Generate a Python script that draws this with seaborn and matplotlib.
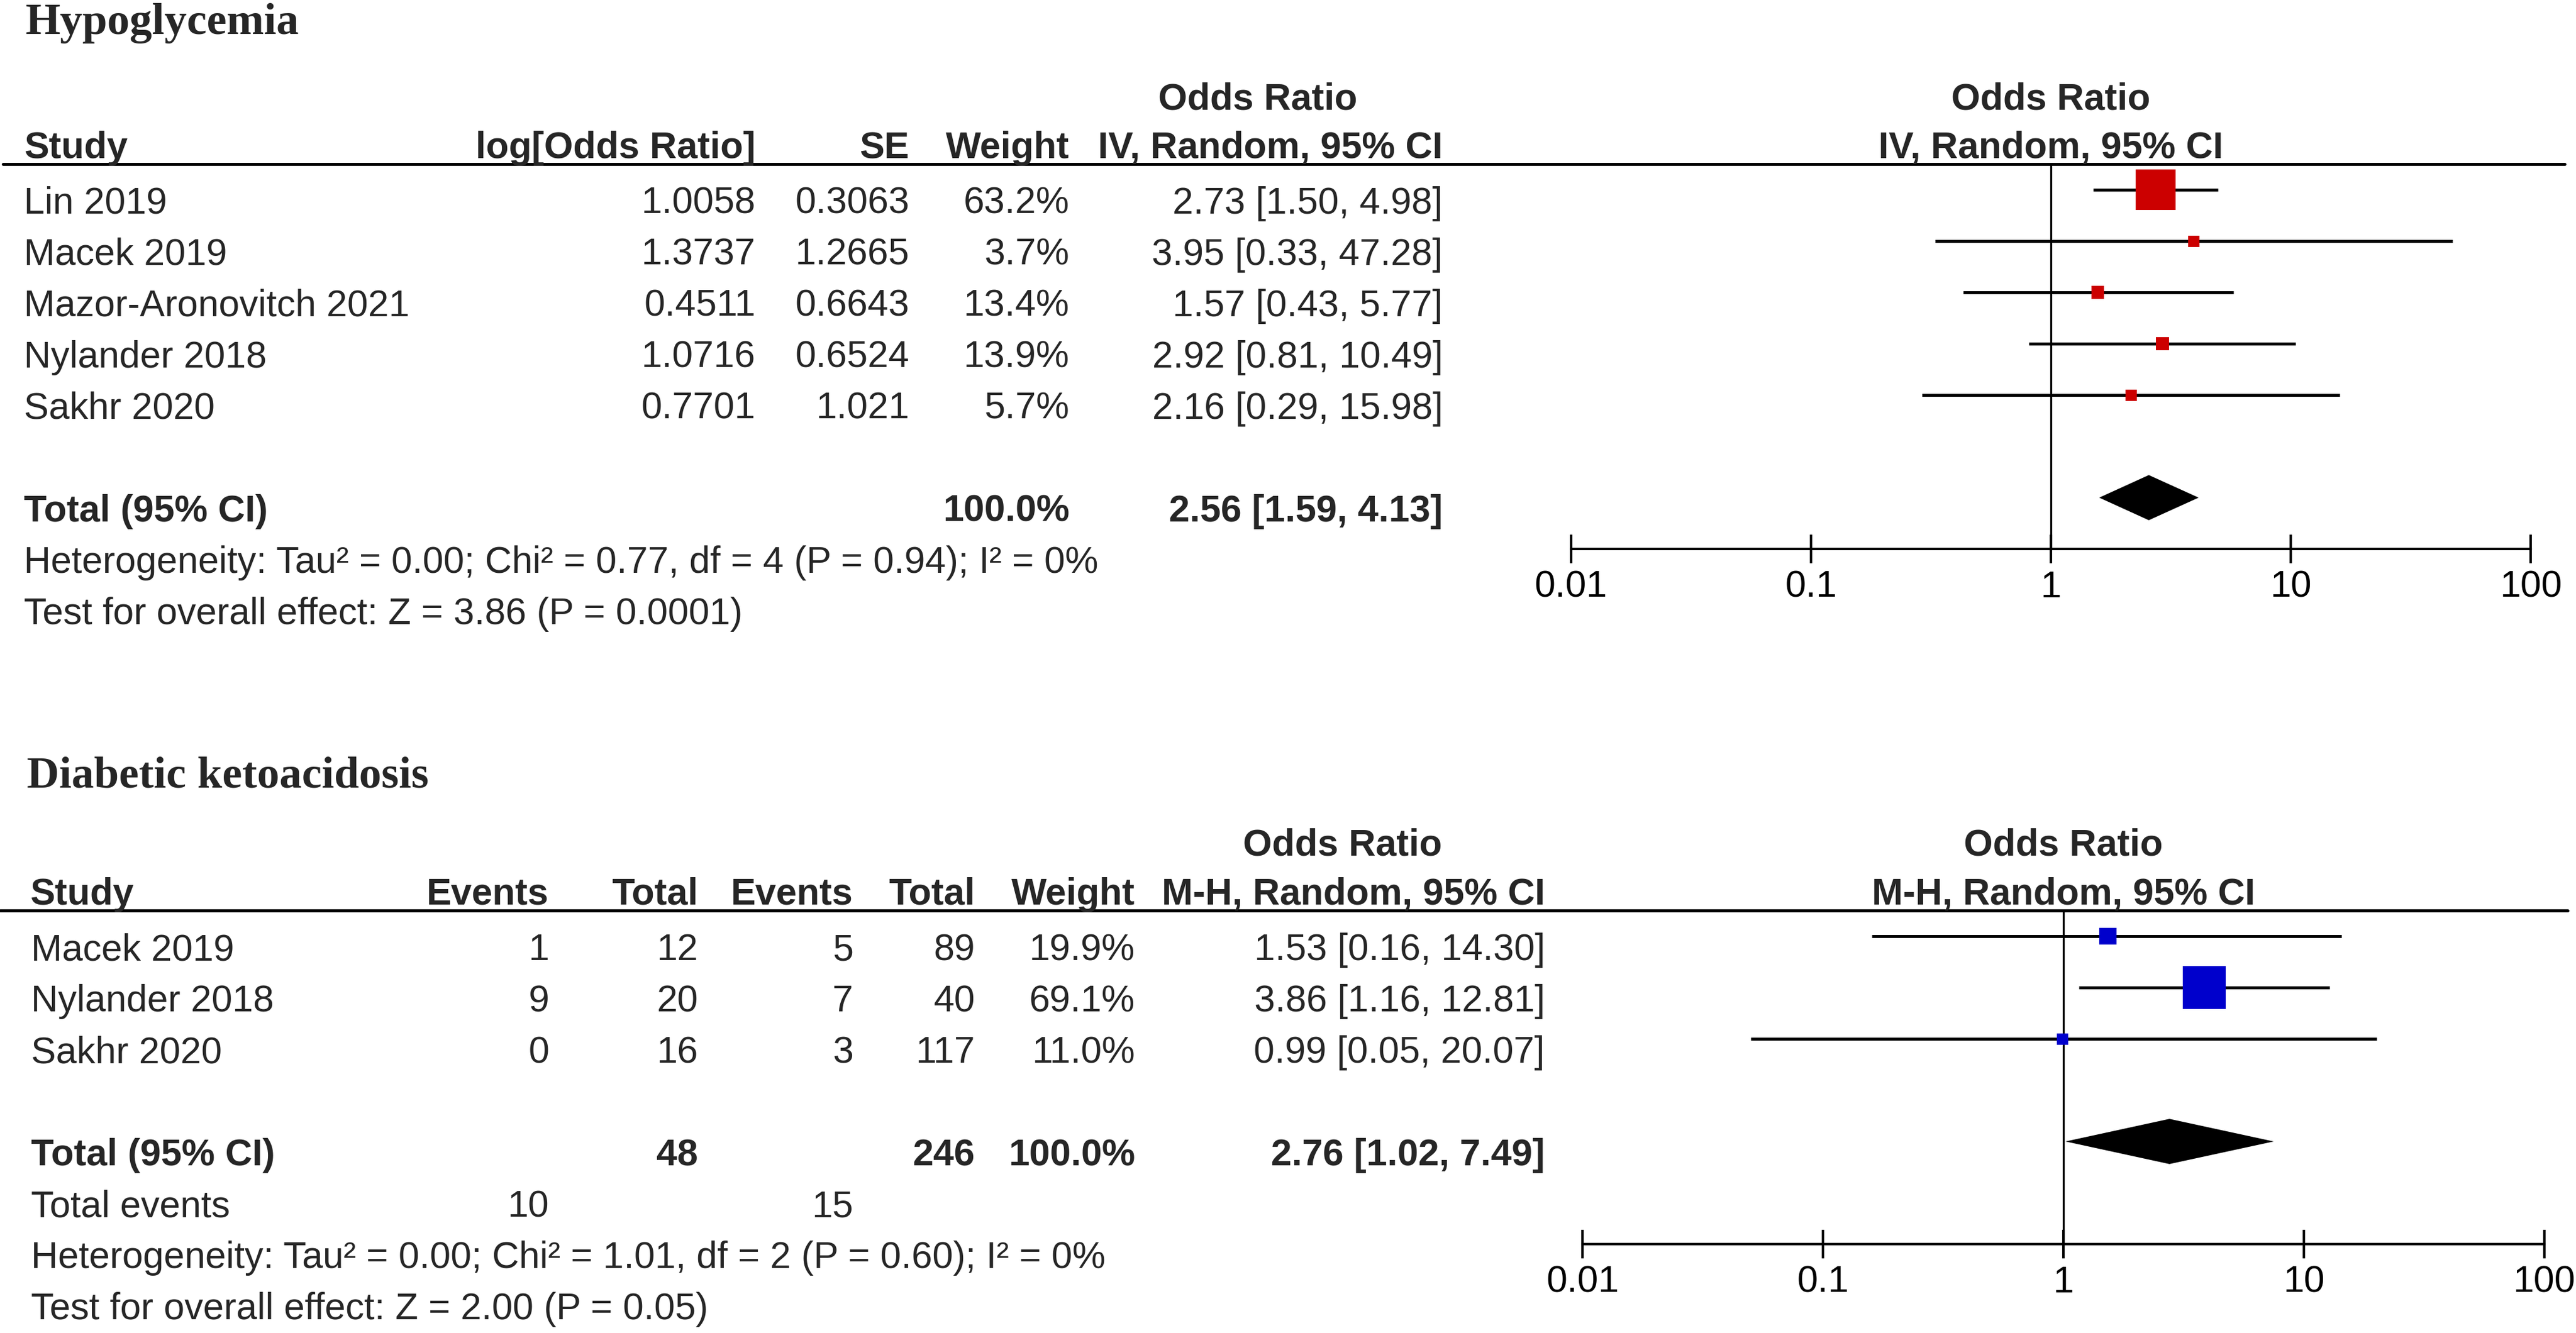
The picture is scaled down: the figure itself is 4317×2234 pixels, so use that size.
import matplotlib
matplotlib.use("Agg")
import matplotlib.pyplot as plt
import seaborn as sns
import numpy as np

# ---- data: Hypoglycemia ----
hypo_study = ["Lin 2019", "Macek 2019", "Mazor-Aronovitch 2021", "Nylander 2018", "Sakhr 2020"]
hypo_logor = ["1.0058", "1.3737", "0.4511", "1.0716", "0.7701"]
hypo_se = ["0.3063", "1.2665", "0.6643", "0.6524", "1.021"]
hypo_weight = [63.2, 3.7, 13.4, 13.9, 5.7]
hypo_or = [2.73, 3.95, 1.57, 2.92, 2.16]
hypo_lo = [1.50, 0.33, 0.43, 0.81, 0.29]
hypo_hi = [4.98, 47.28, 5.77, 10.49, 15.98]
hypo_total = [2.56, 1.59, 4.13]
hypo_het = "Heterogeneity: Tau\u00b2 = 0.00; Chi\u00b2 = 0.77, df = 4 (P = 0.94); I\u00b2 = 0%"
hypo_test = "Test for overall effect: Z = 3.86 (P = 0.0001)"

# ---- data: Diabetic ketoacidosis ----
dka_study = ["Macek 2019", "Nylander 2018", "Sakhr 2020"]
dka_ev1 = [1, 9, 0]
dka_n1 = [12, 20, 16]
dka_ev2 = [5, 7, 3]
dka_n2 = [89, 40, 117]
dka_weight = [19.9, 69.1, 11.0]
dka_or = [1.53, 3.86, 0.99]
dka_lo = [0.16, 1.16, 0.05]
dka_hi = [14.30, 12.81, 20.07]
dka_total = [2.76, 1.02, 7.49]
dka_het = "Heterogeneity: Tau\u00b2 = 0.00; Chi\u00b2 = 1.01, df = 2 (P = 0.60); I\u00b2 = 0%"
dka_test = "Test for overall effect: Z = 2.00 (P = 0.05)"

tick_vals = [0.01, 0.1, 1, 10, 100]
tick_labels = ["0.01", "0.1", "1", "10", "100"]

# ---- figure setup ----
W, H = 4317, 2234
DPI = 100
PITCH = 86          # pixels per row
FS = 45             # table font size
TFS = 54            # title font size

sns.set_style("white")
plt.rcParams['font.family'] = ['Liberation Sans', 'DejaVu Sans']

fig = plt.figure(figsize=(W / DPI, H / DPI), dpi=DPI)
canvas = fig.add_axes([0, 0, 1, 1])
canvas.set_xlim(0, W)
canvas.set_ylim(H, 0)
canvas.axis("off")


def txt(x, y, s, ha="left", bold=False, size=FS, **kw):
    canvas.text(x, y, s, ha=ha, va="baseline", fontsize=size,
                fontweight="bold" if bold else "normal", **kw)


def forest_axes(x0, x1, row0, nrows):
    # axes spanning from half a row above the first study to the x-axis row
    top = row0 - 0.5 * PITCH
    bottom = row0 + nrows * PITCH
    ax = fig.add_axes([x0 / W, 1 - bottom / H, (x1 - x0) / W, (bottom - top) / H])
    ax.patch.set_visible(False)
    ax.set_xscale("log")
    ax.set_xlim(0.01, 100)
    ax.set_ylim(nrows, -0.5)
    for side in ["top", "left", "right"]:
        ax.spines[side].set_visible(False)
    ax.spines["bottom"].set_linewidth(3)
    ax.spines["bottom"].set_color("black")
    ax.set_xticks(tick_vals)
    ax.set_xticklabels(tick_labels)
    ax.xaxis.set_minor_locator(matplotlib.ticker.NullLocator())
    ax.tick_params(axis="x", which="major", bottom=True, direction="inout",
                   length=34, width=3, pad=8, labelsize=FS, colors="black")
    ax.set_yticks([])
    ax.axvline(1, color="black", lw=2.4, zorder=1)
    return ax


def draw_forest(ax, est, lo, hi, weight, total, total_row, color):
    rows = np.arange(len(est))
    ax.hlines(rows, lo, hi, color="black", lw=3.6, zorder=2)
    w = np.array(weight)
    side_px = np.maximum(19, 3.0 * w ** 0.75)
    sns.scatterplot(x=est, y=rows, marker="s", s=(side_px * 0.72) ** 2,
                    color=color, linewidth=0, ax=ax, zorder=3, legend=False)
    t_or, t_lo, t_hi = total
    ax.fill([t_lo, t_or, t_hi, t_or],
            [total_row, total_row - 0.44, total_row, total_row + 0.44],
            color="black", lw=0, zorder=3)


def ci_text(o, l, h):
    return f"{o:.2f} [{l:.2f}, {h:.2f}]"


# ================= Hypoglycemia =================
row0 = 318
base = lambda r: row0 + PITCH * r + 40

txt(43, 57, "Hypoglycemia", bold=True, size=TFS, family=["Liberation Serif", "DejaVu Serif"])
txt(2108, 183, "Odds Ratio", ha="center", bold=True)
txt(40, 265, "Study", bold=True)
txt(1266, 265, "log[Odds Ratio]", ha="right", bold=True)
txt(1524, 265, "SE", ha="right", bold=True)
txt(1792, 265, "Weight", ha="right", bold=True)
txt(2418, 265, "IV, Random, 95% CI", ha="right", bold=True)
canvas.plot([5, 4298], [row0 - 0.5 * PITCH] * 2, color="black", lw=3.6)

for i, name in enumerate(hypo_study):
    y = base(i)
    txt(40, y, name)
    txt(1266, y, hypo_logor[i], ha="right")
    txt(1524, y, hypo_se[i], ha="right")
    txt(1792, y, f"{hypo_weight[i]:.1f}%", ha="right")
    txt(2418, y, ci_text(hypo_or[i], hypo_lo[i], hypo_hi[i]), ha="right")

txt(40, base(6), "Total (95% CI)", bold=True)
txt(1792, base(6), "100.0%", ha="right", bold=True)
txt(2418, base(6), ci_text(*hypo_total), ha="right", bold=True)
txt(40, base(7), hypo_het)
txt(40, base(8), hypo_test)

ax1 = forest_axes(2633, 4241, row0, 7)
draw_forest(ax1, hypo_or, hypo_lo, hypo_hi, hypo_weight, hypo_total, 6, "#CC0000")
cx1 = (2633 + 4241) / 2
txt(cx1, 183, "Odds Ratio", ha="center", bold=True)
txt(cx1, 265, "IV, Random, 95% CI", ha="center", bold=True)

# ================= Diabetic ketoacidosis =================
row0b = 1569
base_b = lambda r: row0b + PITCH * r + 40

txt(45, 1320, "Diabetic ketoacidosis", bold=True, size=TFS, family=["Liberation Serif", "DejaVu Serif"])
txt(2250, 1433, "Odds Ratio", ha="center", bold=True)
txt(50, 1516, "Study", bold=True)
txt(920, 1516, "Events", ha="right", bold=True)
txt(1170, 1516, "Total", ha="right", bold=True)
txt(1430, 1516, "Events", ha="right", bold=True)
txt(1634, 1516, "Total", ha="right", bold=True)
txt(1902, 1516, "Weight", ha="right", bold=True)
txt(2589, 1516, "M-H, Random, 95% CI", ha="right", bold=True)
canvas.plot([0, 4303], [row0b - 0.5 * PITCH] * 2, color="black", lw=3.6)

for i, name in enumerate(dka_study):
    y = base_b(i)
    txt(52, y, name)
    txt(920, y, str(dka_ev1[i]), ha="right")
    txt(1170, y, str(dka_n1[i]), ha="right")
    txt(1430, y, str(dka_ev2[i]), ha="right")
    txt(1634, y, str(dka_n2[i]), ha="right")
    txt(1902, y, f"{dka_weight[i]:.1f}%", ha="right")
    txt(2589, y, ci_text(dka_or[i], dka_lo[i], dka_hi[i]), ha="right")

txt(52, base_b(4), "Total (95% CI)", bold=True)
txt(1170, base_b(4), str(sum(dka_n1)), ha="right", bold=True)
txt(1634, base_b(4), str(sum(dka_n2)), ha="right", bold=True)
txt(1902, base_b(4), "100.0%", ha="right", bold=True)
txt(2589, base_b(4), ci_text(*dka_total), ha="right", bold=True)
txt(52, base_b(5), "Total events")
txt(920, base_b(5), str(sum(dka_ev1)), ha="right")
txt(1430, base_b(5), str(sum(dka_ev2)), ha="right")
txt(52, base_b(6), dka_het)
txt(52, base_b(7), dka_test)

ax2 = forest_axes(2652, 4264, row0b, 6)
draw_forest(ax2, dka_or, dka_lo, dka_hi, dka_weight, dka_total, 4, "#0000CC")
cx2 = (2652 + 4264) / 2
txt(cx2, 1433, "Odds Ratio", ha="center", bold=True)
txt(cx2, 1516, "M-H, Random, 95% CI", ha="center", bold=True)

fig.savefig("out.png", dpi=DPI, facecolor="white")
